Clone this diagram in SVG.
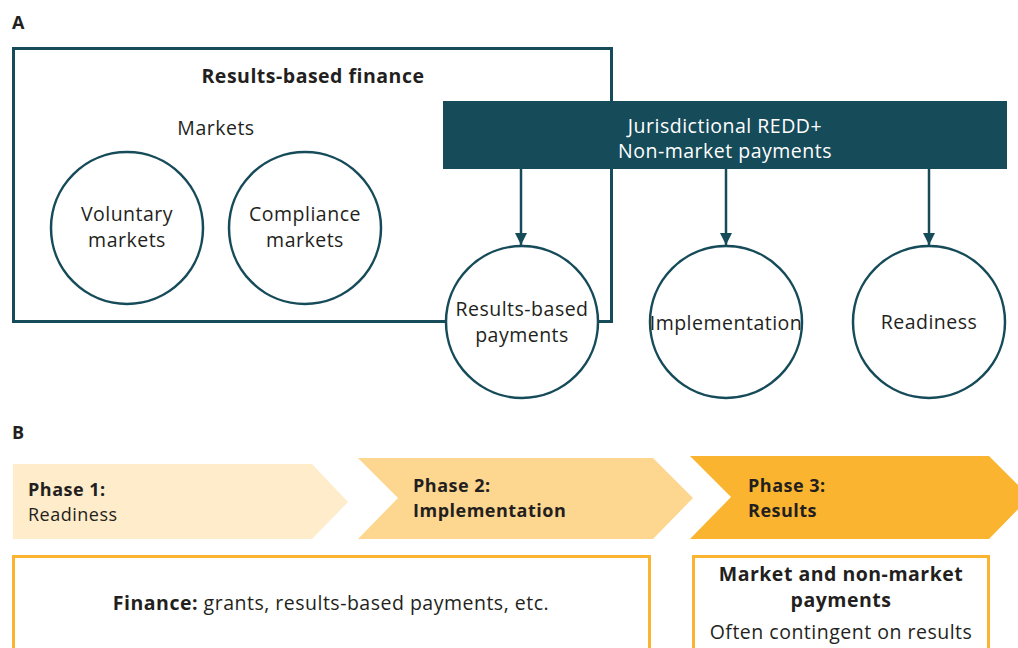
<svg xmlns="http://www.w3.org/2000/svg" width="1018" height="648" viewBox="0 0 1018 648">
  <defs>
    <style>
      text { font-family: "Open Sans", "Liberation Sans", sans-serif; fill: #231f20; }
      .lbl { font-size: 18px; font-weight: 700; }
      .t { font-size: 19.5px; letter-spacing: 0.5px; }
      .p { font-size: 18px; letter-spacing: 0.5px; }
      .b { font-weight: 700; }
      .w { fill: #ffffff; }
      .node { fill: #ffffff; stroke: #164b59; stroke-width: 2.5; }
      .conn { stroke: #164b59; stroke-width: 2.5; fill: none; }
      .obox { fill: #ffffff; stroke: #fbb42f; stroke-width: 3; }
    </style>
    <marker id="arr" viewBox="0 0 10 10" refX="10" refY="5" markerWidth="5" markerHeight="5" markerUnits="strokeWidth" orient="auto">
      <path d="M0,0 L10,5 L0,10 Z" fill="#164b59"/>
    </marker>
  </defs>

  <!-- Panel A -->
  <text class="lbl" x="12" y="29">A</text>

  <g id="rbf-frame">
    <rect x="13.5" y="48.5" width="598" height="273" fill="none" stroke="#164b59" stroke-width="3"/>
    <text class="t b" x="313" y="83" text-anchor="middle">Results-based finance</text>
    <text class="t" x="216" y="135" text-anchor="middle">Markets</text>
  </g>

  <g id="voluntary">
    <circle class="node" cx="127" cy="228" r="76"/>
    <text class="t" x="127" y="221" text-anchor="middle">Voluntary</text>
    <text class="t" x="127" y="247" text-anchor="middle">markets</text>
  </g>

  <g id="compliance">
    <circle class="node" cx="305" cy="228" r="76"/>
    <text class="t" x="305" y="221" text-anchor="middle">Compliance</text>
    <text class="t" x="305" y="247" text-anchor="middle">markets</text>
  </g>

  <g id="jurisdictional">
    <rect x="443" y="101" width="564" height="68" fill="#164b59"/>
    <text class="t w" x="725" y="133" text-anchor="middle">Jurisdictional REDD+</text>
    <text class="t w" x="725" y="158" text-anchor="middle">Non-market payments</text>
  </g>

  <g id="connectors">
    <line class="conn" x1="521" y1="169" x2="521" y2="245" marker-end="url(#arr)"/>
    <line class="conn" x1="726" y1="169" x2="726" y2="245" marker-end="url(#arr)"/>
    <line class="conn" x1="929" y1="169" x2="929" y2="245" marker-end="url(#arr)"/>
  </g>

  <g id="rbp">
    <circle class="node" cx="522" cy="322" r="76"/>
    <text class="t" x="522" y="316" text-anchor="middle">Results-based</text>
    <text class="t" x="522" y="342" text-anchor="middle">payments</text>
  </g>

  <g id="implementation">
    <circle class="node" cx="726" cy="322" r="76"/>
    <text class="t" x="726" y="330" text-anchor="middle" letter-spacing="0">Implementation</text>
  </g>

  <g id="readiness">
    <circle class="node" cx="929" cy="322" r="76"/>
    <text class="t" x="929" y="329" text-anchor="middle">Readiness</text>
  </g>

  <!-- Panel B -->
  <text class="lbl" x="12" y="439">B</text>

  <g id="phase1">
    <polygon points="13,464 312,464 348,502 312,539 13,539" fill="#feecca"/>
    <text class="p b" x="28" y="496">Phase 1:</text>
    <text class="p" x="28" y="521">Readiness</text>
  </g>

  <g id="phase2">
    <polygon points="358,458 653,458 693,498 653,539 358,539 398,498" fill="#fdd68f"/>
    <text class="p b" x="413" y="492">Phase 2:</text>
    <text class="p b" x="413" y="517">Implementation</text>
  </g>

  <g id="phase3">
    <polygon points="690,456 989,456 1030,497 989,539 690,539 731,497" fill="#fbb42f"/>
    <text class="p b" x="748" y="492">Phase 3:</text>
    <text class="p b" x="748" y="517">Results</text>
  </g>

  <g id="finance">
    <rect class="obox" x="13.5" y="556.5" width="636" height="100"/>
    <text class="t" x="331" y="610" text-anchor="middle"><tspan class="b">Finance:</tspan> grants, results-based payments, etc.</text>
  </g>

  <g id="payments">
    <rect class="obox" x="693.5" y="556.5" width="295" height="100"/>
    <text class="t b" x="841" y="581" text-anchor="middle">Market and non-market</text>
    <text class="t b" x="841" y="607" text-anchor="middle">payments</text>
    <text class="t" x="841" y="639" text-anchor="middle">Often contingent on results</text>
  </g>
</svg>
